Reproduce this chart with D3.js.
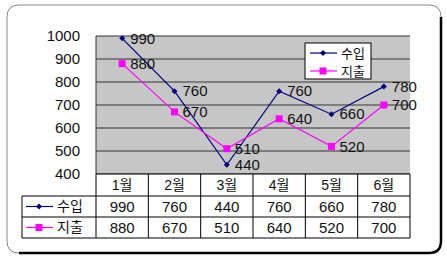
<!DOCTYPE html>
<html><head><meta charset="utf-8">
<script src="https://cdn.jsdelivr.net/npm/d3@7"></script>
<style>
body{margin:0;background:#fff;}
svg{display:block;}
text{font-family:"Liberation Sans","Noto Sans CJK KR",Arial,sans-serif;fill:#111;}
</style></head><body>
<svg id="c" width="447" height="263"></svg>
<script>
const months = ["1월","2월","3월","4월","5월","6월"];
const income = [990,760,440,760,660,780];
const expense = [880,670,510,640,520,700];
const seriesNames = ["수입","지출"];
const seriesColors = ["#000080","#ff00ff"];
const yTicks = [400,500,600,700,800,900,1000];

const svg = d3.select("#c");
const L=96, R=410, T=36, B=174;
const x = d3.scaleBand().domain(months).range([L,R]);
const y = d3.scaleLinear().domain([400,1000]).range([B,T]);
const series = [income, expense];
const FS = 15;

// frame with shadow
svg.append("path")
  .attr("d","M 7 17 Q 7 5 19 5 L 429 5 Q 441 5 441 17 L 441 241 Q 441 253 429 253 L 19 253 Q 7 253 7 241 Z")
  .attr("fill","none").attr("stroke","#888").attr("stroke-width",1);
svg.append("path")
  .attr("d","M 441 17 L 441 241 Q 441 253 429 253 L 19 253")
  .attr("fill","none").attr("stroke","#000").attr("stroke-width",2.5);

// plot area
svg.append("rect").attr("x",L).attr("y",T).attr("width",R-L).attr("height",B-T).attr("fill","#c6c6c6");
svg.append("g").selectAll("line").data(yTicks).join("line")
  .attr("x1",L).attr("x2",R).attr("y1",d=>y(d)).attr("y2",d=>y(d))
  .attr("stroke","#333").attr("stroke-width",1);
svg.append("line").attr("x1",L).attr("x2",L).attr("y1",T).attr("y2",B).attr("stroke","#333");

// y axis labels
svg.append("g").selectAll("text").data(yTicks).join("text")
  .attr("x",80).attr("y",d=>y(d)).attr("dy","0.35em").attr("text-anchor","end")
  .attr("font-size",FS).text(d=>d);

// lines
const line = d3.line().x((d,i)=>x(months[i])+x.bandwidth()/2).y(d=>y(d));
series.forEach((s,k)=>{
  svg.append("path").datum(s).attr("d",line).attr("fill","none")
    .attr("stroke",seriesColors[k]).attr("stroke-width",1.2);
});
// markers
function marker(g,k,cx,cy,sz){
  if(k===0){
    g.append("path").attr("d",`M ${cx} ${cy-sz} L ${cx+sz} ${cy} L ${cx} ${cy+sz} L ${cx-sz} ${cy} Z`).attr("fill",seriesColors[0]);
  } else {
    g.append("rect").attr("x",cx-sz).attr("y",cy-sz).attr("width",2*sz).attr("height",2*sz).attr("fill",seriesColors[1]);
  }
}
const mg = svg.append("g");
series.forEach((s,k)=>{
  s.forEach((v,i)=>{
    marker(mg,k,x(months[i])+x.bandwidth()/2,y(v),k===0?3:3.5);
  });
});
// data labels
series.forEach((s,k)=>{
  svg.append("g").selectAll("text").data(s).join("text")
    .attr("x",(d,i)=>x(months[i])+x.bandwidth()/2+8)
    .attr("y",d=>y(d)).attr("dy","0.35em").attr("font-size",FS).text(d=>d);
});

// legend
const lg = svg.append("g");
lg.append("rect").attr("x",305).attr("y",43).attr("width",66).attr("height",36).attr("fill","#fff").attr("stroke","#000");
seriesNames.forEach((n,k)=>{
  const cy = 53+k*18;
  lg.append("line").attr("x1",310).attr("x2",337).attr("y1",cy).attr("y2",cy).attr("stroke",seriesColors[k]).attr("stroke-width",1.2);
  marker(lg,k,323,cy,k===0?3:3.5);
  lg.append("text").attr("x",341).attr("y",cy).attr("dy","0.35em").attr("font-size",13).text(n);
});

// table
const tT=B, rowH=[22,21,21];
const tbl = svg.append("g");
tbl.append("rect").attr("x",L).attr("y",tT).attr("width",R-L).attr("height",rowH[0]).attr("fill","#fff");
tbl.append("rect").attr("x",22).attr("y",tT+rowH[0]).attr("width",R-22).attr("height",rowH[1]+rowH[2]).attr("fill","#fff");
const rowY=[tT, tT+rowH[0], tT+rowH[0]+rowH[1], tT+rowH[0]+rowH[1]+rowH[2]];
[1,2,3].forEach(r=>{
  tbl.append("line").attr("x1",22).attr("x2",R).attr("y1",rowY[r]).attr("y2",rowY[r]).attr("stroke","#000");
});
tbl.append("line").attr("x1",L).attr("x2",R).attr("y1",rowY[0]).attr("y2",rowY[0]).attr("stroke","#000");
tbl.append("line").attr("x1",22).attr("x2",22).attr("y1",rowY[1]).attr("y2",rowY[3]).attr("stroke","#000");
months.forEach(m=>{
  tbl.append("line").attr("x1",x(m)).attr("x2",x(m)).attr("y1",rowY[0]).attr("y2",rowY[3]).attr("stroke","#000");
});
tbl.append("line").attr("x1",R).attr("x2",R).attr("y1",rowY[0]).attr("y2",rowY[3]).attr("stroke","#000");
tbl.selectAll("text.h").data(months).join("text").attr("class","h")
  .attr("x",d=>x(d)+x.bandwidth()/2).attr("y",(rowY[0]+rowY[1])/2).attr("dy","0.35em")
  .attr("text-anchor","middle").attr("font-size",14).text(d=>d);
series.forEach((s,k)=>{
  const cy=(rowY[k+1]+rowY[k+2])/2;
  tbl.append("line").attr("x1",26).attr("x2",53).attr("y1",cy).attr("y2",cy).attr("stroke",seriesColors[k]).attr("stroke-width",1.2);
  marker(tbl,k,39,cy,k===0?3:3.5);
  tbl.append("text").attr("x",57).attr("y",cy).attr("dy","0.35em").attr("font-size",14).text(seriesNames[k]);
  tbl.append("g").selectAll("text").data(s).join("text")
    .attr("x",(d,i)=>x(months[i])+x.bandwidth()/2).attr("y",cy).attr("dy","0.35em")
    .attr("text-anchor","middle").attr("font-size",FS).text(d=>d);
});
</script></body></html>
